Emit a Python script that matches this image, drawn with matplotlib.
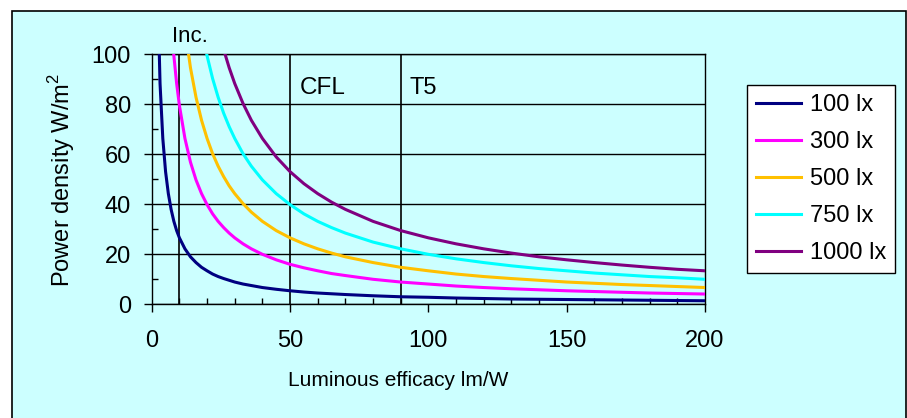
import matplotlib
matplotlib.use("Agg")
import matplotlib.pyplot as plt
from matplotlib.patches import Rectangle
from matplotlib.ticker import MultipleLocator

plt.rcParams['font.family'] = ['Liberation Sans', 'DejaVu Sans']
plt.rcParams['mathtext.fontset'] = 'custom'
plt.rcParams['mathtext.rm'] = 'Liberation Sans'

# luminous efficacy (lm/W)
efficacy = [2, 3, 4, 5, 6, 7, 8, 9, 10, 12, 14, 16, 18, 20, 22, 24, 26, 28, 30, 33,
            36, 40, 45, 50, 55, 60, 65, 70, 80, 90, 100, 110, 120, 130, 140, 150,
            160, 170, 180, 190, 200]

# power density (W/m2) for each illuminance level
p100 = [132.5, 88.3, 66.3, 53.0, 44.2, 37.9, 33.1, 29.4, 26.5, 22.1, 18.9, 16.6, 14.7,
        13.3, 12.0, 11.0, 10.2, 9.5, 8.8, 8.0, 7.4, 6.6, 5.9, 5.3, 4.8, 4.4, 4.1, 3.8,
        3.3, 2.9, 2.7, 2.4, 2.2, 2.0, 1.9, 1.8, 1.7, 1.6, 1.5, 1.4, 1.3]
p300 = [397.5, 265.0, 198.8, 159.0, 132.5, 113.6, 99.4, 88.3, 79.5, 66.3, 56.8, 49.7,
        44.2, 39.8, 36.1, 33.1, 30.6, 28.4, 26.5, 24.1, 22.1, 19.9, 17.7, 15.9, 14.5,
        13.3, 12.2, 11.4, 9.9, 8.8, 8.0, 7.2, 6.6, 6.1, 5.7, 5.3, 5.0, 4.7, 4.4, 4.2, 4.0]
p500 = [662.5, 441.7, 331.3, 265.0, 220.8, 189.3, 165.6, 147.2, 132.5, 110.4, 94.6,
        82.8, 73.6, 66.3, 60.2, 55.2, 51.0, 47.3, 44.2, 40.2, 36.8, 33.1, 29.4, 26.5,
        24.1, 22.1, 20.4, 18.9, 16.6, 14.7, 13.3, 12.0, 11.0, 10.2, 9.5, 8.8, 8.3, 7.8,
        7.4, 7.0, 6.6]
p750 = [993.8, 662.5, 496.9, 397.5, 331.3, 283.9, 248.4, 220.8, 198.8, 165.6, 142.0,
        124.2, 110.4, 99.4, 90.3, 82.8, 76.4, 71.0, 66.3, 60.2, 55.2, 49.7, 44.2, 39.8,
        36.1, 33.1, 30.6, 28.4, 24.8, 22.1, 19.9, 18.1, 16.6, 15.3, 14.2, 13.3, 12.4,
        11.7, 11.0, 10.5, 9.9]
p1000 = [1325.0, 883.3, 662.5, 530.0, 441.7, 378.6, 331.3, 294.4, 265.0, 220.8, 189.3,
         165.6, 147.2, 132.5, 120.5, 110.4, 101.9, 94.6, 88.3, 80.3, 73.6, 66.3, 58.9,
         53.0, 48.2, 44.2, 40.8, 37.9, 33.1, 29.4, 26.5, 24.1, 22.1, 20.4, 18.9, 17.7,
         16.6, 15.6, 14.7, 13.9, 13.3]

series = [p100, p300, p500, p750, p1000]
labels = ['100 lx', '300 lx', '500 lx', '750 lx', '1000 lx']
colors = ['#000080', '#FF00FF', '#FFC000', '#00FFFF', '#800080']

lamp_x = [10, 50, 90]
lamp_names = ['Inc.', 'CFL', 'T5']

bg = '#CCFFFF'
fig = plt.figure(figsize=(9.07, 4.18), dpi=100, facecolor='white')
fig.patches.append(Rectangle((12 / 907, -0.1), 894 / 907, 1.1 - 11 / 418,
                             transform=fig.transFigure, facecolor=bg,
                             edgecolor='black', lw=1.2, zorder=-5))

ax = fig.add_axes([0.1673, 0.2727, 0.610, 0.5974])
ax.set_facecolor(bg)

for y, lab, c in zip(series, labels, colors):
    ax.plot(efficacy, y, color=c, lw=2.2, label=lab, zorder=3)

for xv in lamp_x:
    ax.plot([xv, xv], [0, 100], color='black', lw=1.2, zorder=2)

ax.text(7.3, 107, lamp_names[0], fontsize=16, va='center', ha='left', clip_on=False)
ax.text(53.6, 86.5, lamp_names[1], fontsize=17.5, va='center', ha='left')
ax.text(93.3, 86.5, lamp_names[2], fontsize=17, va='center', ha='left')

ax.set_xlim(0, 200)
ax.set_ylim(0, 100)
ax.xaxis.set_major_locator(MultipleLocator(50))
ax.xaxis.set_minor_locator(MultipleLocator(10))
ax.yaxis.set_major_locator(MultipleLocator(20))
ax.yaxis.set_minor_locator(MultipleLocator(10))
ax.yaxis.grid(True, which='major', color='black', lw=1)
ax.set_axisbelow(True)
ax.tick_params(which='major', direction='out', length=6, width=1, labelsize=17)
ax.tick_params(which='minor', direction='in', length=4.5, width=1)
ax.tick_params(axis='x', which='major', pad=13)
ax.tick_params(axis='y', which='major', pad=9)
for s in ax.spines.values():
    s.set_color('black')
    s.set_linewidth(1)

fig.text(398 / 907, 1 - 381 / 418, 'Luminous efficacy lm/W', fontsize=15,
         ha='center', va='center')
fig.text(62 / 907, 1 - 180 / 418, 'Power density W/m$^2$', fontsize=17,
         ha='center', va='center', rotation=90)

leg = ax.legend(loc='upper left', bbox_to_anchor=(747 / 907, 1 - 85 / 418),
                bbox_transform=fig.transFigure, fontsize=17, frameon=True,
                fancybox=False, framealpha=1, edgecolor='black',
                handlelength=1.9, handletextpad=0.35, labelspacing=0.63,
                borderpad=0.4, borderaxespad=0)
leg.get_frame().set_linewidth(1)

fig.savefig('out.png', dpi=100, facecolor='white')
